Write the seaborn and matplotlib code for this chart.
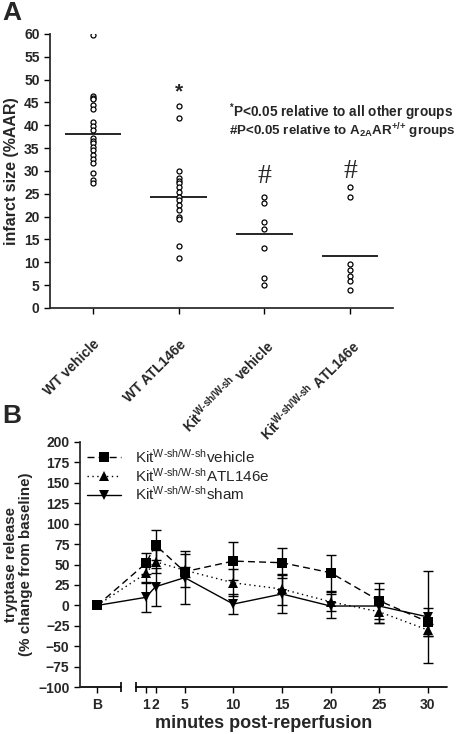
import numpy as np
import pandas as pd
import matplotlib
matplotlib.use("Agg")
import matplotlib.pyplot as plt
import seaborn as sns

HY = "\u2010"  # real hyphen, mathtext would turn "-" into a minus

# panel A: infarct size per animal
groups = ["WT vehicle", "WT ATL146e", "Kit vehicle", "Kit ATL146e"]
group_labels = [
    "WT vehicle",
    "WT ATL146e",
    "Kit$^{\\mathbf{W" + HY + "sh/W" + HY + "sh}}$ vehicle",
    "Kit$^{\\mathbf{W" + HY + "sh/W" + HY + "sh}}$ ATL146e",
]
wt_vehicle = [59.7, 46.4, 46.0, 45.8, 44.5, 43.5, 40.7, 39.9, 39.0, 37.2,
              36.6, 36.1, 35.3, 34.6, 33.4, 32.7, 31.7, 29.6, 28.0, 27.3]
wt_atl = [44.3, 41.5, 30.0, 28.4, 27.8, 27.3, 26.6, 25.5, 24.4, 23.6,
          22.6, 21.5, 20.0, 19.4, 13.6, 10.9]
kit_vehicle = [24.3, 23.0, 18.9, 17.4, 13.2, 6.6, 5.0]
kit_atl = [26.4, 24.3, 9.7, 8.4, 6.9, 5.8, 4.0]
group_means = [38.1, 24.2, 16.2, 11.3]

# panel B: tryptase release, mean and SEM
minute_labels = ["B", "1", "2", "5", "10", "15", "20", "25", "30"]
minutes = [1, 2, 5, 10, 15, 20, 25, 30]
veh_mean = [0, 51.4, 73.7, 41.2, 54.2, 52.2, 40.0, 5.8, -20.0]
veh_sem = [0, 13.0, 18.0, 6.0, 22.8, 18.3, 22.0, 22.0, 17.0]
atl_mean = [0, 39.2, 53.4, 43.0, 27.7, 20.0, 4.5, -7.7, -30.0]
atl_sem = [0, 12.0, 14.0, 20.0, 16.5, 19.0, 11.5, 13.5, 7.5]
sham_mean = [0, 9.9, 22.9, 34.0, 1.7, 14.0, -0.7, -0.7, -14.0]
sham_sem = [0, 18.4, 23.0, 32.0, 12.2, 23.0, 15.0, 21.0, 56.5]

KIT = "Kit$^{\\mathrm{W" + HY + "sh/W" + HY + "sh}}$"
series_names = [KIT + "vehicle", KIT + "ATL146e", KIT + "sham"]

sns.set_style("ticks")
plt.rcParams["font.family"] = ["Liberation Sans", "DejaVu Sans"]
plt.rcParams["mathtext.fontset"] = "custom"
plt.rcParams["mathtext.rm"] = "Liberation Sans"
plt.rcParams["mathtext.bf"] = "Liberation Sans:bold"
plt.rcParams["mathtext.it"] = "Liberation Sans:italic"

fig = plt.figure(figsize=(4.6, 7.34), dpi=100)

# ---------------- panel A ----------------
ax1 = fig.add_axes([0.1087, 0.5804, 0.7457, 0.3733])
dfA = pd.DataFrame({
    "group": sum([[g] * len(v) for g, v in zip(groups, [wt_vehicle, wt_atl, kit_vehicle, kit_atl])], []),
    "infarct": wt_vehicle + wt_atl + kit_vehicle + kit_atl,
})
sns.stripplot(data=dfA, x="group", y="infarct", order=groups, jitter=False,
              marker="o", size=3.6, color="white", edgecolor="black",
              linewidth=0.9, ax=ax1, zorder=3)
pos = np.arange(len(groups))
ax1.hlines(group_means, pos - 0.33, pos + 0.33, color="black", lw=1.2, zorder=2)

ax1.set_xlim(-0.5, 3.5)
ax1.set_ylim(0, 60)
ax1.set_yticks(np.arange(0, 61, 5))
ax1.set_xticks(pos)
ax1.set_xticklabels(group_labels, rotation=45, ha="right", rotation_mode="anchor",
                    fontweight="bold", fontsize=10)
ax1.tick_params(axis="x", pad=17)
ax1.set_xlabel("")
ax1.set_ylabel("infarct size (%AAR)", fontsize=11.5, fontweight="bold", labelpad=4)
for lab in ax1.get_yticklabels():
    lab.set_fontweight("bold")
    lab.set_fontsize(10)
sns.despine(ax=ax1)

# significance marks
ax1.text(1, 47.3, "*", ha="center", va="center", fontsize=15, fontweight="bold")
ax1.text(2, 28.7, "#", ha="center", va="center", fontsize=20, family="Liberation Serif")
ax1.text(3, 29.8, "#", ha="center", va="center", fontsize=20, family="Liberation Serif")
fig.text(0.498, 1 - 112 / 734, r"$^{\mathbf{*}}$P<0.05 relative to all other groups",
         fontsize=9.8, fontweight="bold", va="center")
fig.text(0.498, 1 - 131 / 734,
         r"#P<0.05 relative to A$_{\mathbf{2A}}$AR$^{\mathbf{{+}/{+}}}$ groups",
         fontsize=9.6, fontweight="bold", va="center")

fig.text(0.005, 0.998, "A", fontsize=19, fontweight="bold", va="top")
fig.text(0.005, 1 - 404 / 734, "B", fontsize=19, fontweight="bold", va="top")

# ---------------- panel B ----------------
ax2 = fig.add_axes([0.1739, 0.0636, 0.7972, 0.3346])
B_POS = -4
xs = [B_POS] + minutes
dfB = pd.DataFrame({
    "minute": xs * 3,
    "value": veh_mean + atl_mean + sham_mean,
    "group": [series_names[0]] * len(xs) + [series_names[1]] * len(xs) + [series_names[2]] * len(xs),
})
sns.lineplot(data=dfB, x="minute", y="value", hue="group", style="group",
             hue_order=series_names, style_order=series_names,
             palette={n: "black" for n in series_names},
             markers={series_names[0]: "s", series_names[1]: "^", series_names[2]: "v"},
             dashes={series_names[0]: (5, 3), series_names[1]: (1, 2.5), series_names[2]: ""},
             markersize=7, markeredgewidth=0, lw=1, ax=ax2)
for m, s in [(veh_mean, veh_sem), (atl_mean, atl_sem), (sham_mean, sham_sem)]:
    ax2.errorbar(minutes, m[1:], yerr=s[1:], fmt="none", ecolor="black",
                 elinewidth=1, capsize=3.3, capthick=1, zorder=1)

handles, labels = ax2.get_legend_handles_labels()
ax2.legend(handles, labels, loc="upper left", bbox_to_anchor=(0.02, 0.975),
           frameon=False, fontsize=11, handlelength=2.2, handletextpad=0.9,
           labelspacing=0.05, borderaxespad=0, borderpad=0)

ax2.set_xlim(-5.77, 31.95)
ax2.set_ylim(-100, 200)
ax2.set_yticks(np.arange(-100, 201, 25))
ax2.set_xticks(xs)
ax2.set_xticklabels(minute_labels, fontweight="bold", fontsize=10)
for lab in ax2.get_yticklabels():
    lab.set_fontweight("bold")
    lab.set_fontsize(10)
ax2.set_xlabel("minutes post-reperfusion", fontsize=13, fontweight="bold", labelpad=2)
ax2.set_ylabel("tryptase release\n(% change from baseline)", fontsize=10.9,
               fontweight="bold", labelpad=4, linespacing=1.05)
sns.despine(ax=ax2)

# broken x axis
ax2.spines["bottom"].set_visible(False)
tr = ax2.get_xaxis_transform()
ax2.plot([-5.77, -1.58], [0, 0], color="black", lw=1.25, transform=tr, clip_on=False)
ax2.plot([0.0, 31.95], [0, 0], color="black", lw=1.25, transform=tr, clip_on=False)
ax2.plot([-1.58, 0.0], [0, 0], ls="none", marker="|", markersize=7, mew=1.2,
         color="black", transform=tr, clip_on=False)

for ax in (ax1, ax2):
    ax.tick_params(direction="out", length=4, width=1, color="black")
    for sp in ax.spines.values():
        sp.set_linewidth(1.25)

fig.savefig("out.png", dpi=100)
